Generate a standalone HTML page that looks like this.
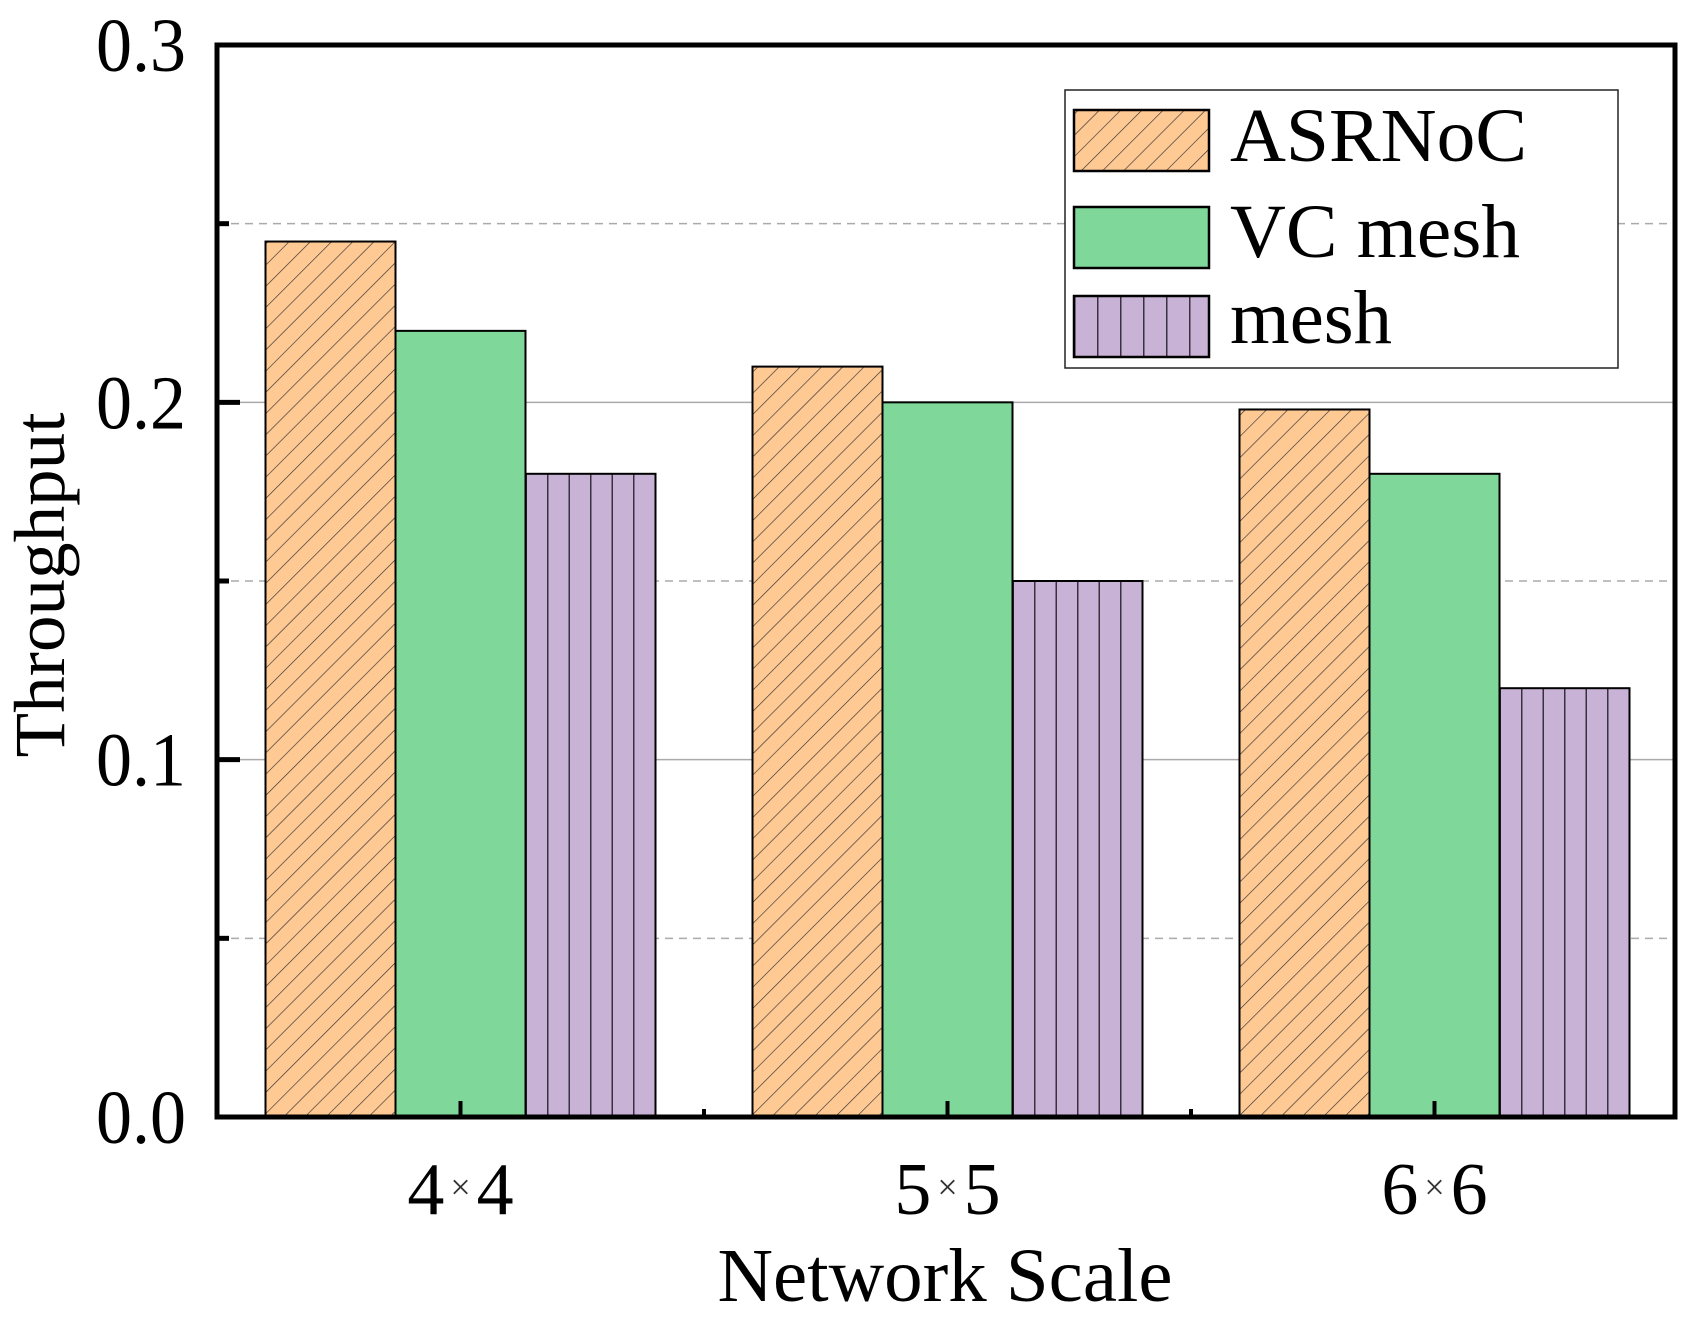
<!DOCTYPE html>
<html><head><meta charset="utf-8"><style>
html,body{margin:0;padding:0;background:#fff;}
svg{display:block;font-family:"Liberation Serif",serif;}
</style></head><body>
<svg id="chart" width="1694" height="1320" viewBox="0 0 1694 1320">
<defs>
<pattern id="diag" patternUnits="userSpaceOnUse" width="15" height="15" patternTransform="rotate(45)">
<rect width="15" height="15" fill="#FFC994"/>
<line x1="0" y1="0" x2="0" y2="15" stroke="#333" stroke-width="1.3"/>
</pattern>
<pattern id="vert" patternUnits="userSpaceOnUse" width="21.5" height="20" x="0">
<rect width="21.5" height="20" fill="#C8B2D6"/>
<line x1="0.75" y1="0" x2="0.75" y2="20" stroke="#3a3040" stroke-width="1.5"/>
</pattern>
</defs>
<g id="grid"></g>
<g id="bars"></g>
<g id="axes"></g>
<g id="legend"></g>
</svg>
<script>
const categories = ["4", "5", "6"];
const seriesNames = ["ASRNoC", "VC mesh", "mesh"];
const asrnocValues = [0.245, 0.21, 0.198];
const vcMeshValues = [0.22, 0.20, 0.18];
const meshValues = [0.18, 0.15, 0.12];
const yTickLabels = ["0.0", "0.1", "0.2", "0.3"];
const yTickValues = [0, 0.1, 0.2, 0.3];
const yMinorValues = [0.05, 0.15, 0.25];

const NS = "http://www.w3.org/2000/svg";
const L = 217, R = 1675, T = 45, B = 1117;
const yMax = 0.3;
function y(v){ return B - v / yMax * (B - T); }
const groupStart = 460.5, groupStep = 487, barW = 130;
function xc(i){ return groupStart + i * groupStep; }
function mk(tag, attrs, parent){
  const e = document.createElementNS(NS, tag);
  for (const k in attrs) e.setAttribute(k, attrs[k]);
  parent.appendChild(e); return e;
}
const grid = document.getElementById('grid');
const bars = document.getElementById('bars');
const axes = document.getElementById('axes');
const legend = document.getElementById('legend');

yTickValues.forEach(v => {
  if (v === 0 || v === yMax) return;
  const g = mk('line', {x1:L, x2:R, y1:y(v), y2:y(v), stroke:'#aaa', 'stroke-width':1.5}, grid);
  
  
});
yMinorValues.forEach(v => {
  const g = mk('line', {x1:L, x2:R, y1:y(v), y2:y(v), stroke:'#aaa', 'stroke-width':1.5, 'stroke-dasharray':'8 6'}, grid);
  
  
});

const series = [asrnocValues, vcMeshValues, meshValues];
const fills = ['url(#diag)', '#7FD89A', 'url(#vert)'];
const slugs = ['asrnoc', 'vc-mesh', 'mesh'];
categories.forEach((c, i) => {
  series.forEach((vals, s) => {
    const x0 = xc(i) - 1.5 * barW + s * barW;
    const r = mk('rect', {x:x0, y:y(vals[i]), width:barW, height:B - y(vals[i]), fill:fills[s], stroke:'#000', 'stroke-width':2}, bars);
    
    
  });
});
document.querySelectorAll('#bars rect').forEach((r, k) => {
  if (k % 3 !== 2) return;
  const x0 = parseFloat(r.getAttribute('x'));
  const p = document.getElementById('vert').cloneNode(true);
  p.id = 'vert' + k; p.setAttribute('x', x0);
  document.querySelector('defs').appendChild(p);
  r.setAttribute('style', 'fill:url(#vert' + k + ')');
});

const fr = mk('rect', {x:L, y:T, width:R - L, height:B - T, fill:'none', stroke:'#000', 'stroke-width':5}, axes);



yTickValues.forEach((v, k) => {
  const t = mk('line', {x1:L, x2:L + 23, y1:y(v), y2:y(v), stroke:'#000', 'stroke-width':5}, axes);
  
  
  const lb = mk('text', {x:186, y:y(v) + 26, 'text-anchor':'end', 'font-size':76, textLength:90, lengthAdjust:'spacingAndGlyphs'}, axes);
  lb.textContent = yTickLabels[k];
  
  
});
yMinorValues.forEach(v => {
  const t = mk('line', {x1:L, x2:L + 12, y1:y(v), y2:y(v), stroke:'#000', 'stroke-width':5}, axes);
  
  
});
categories.forEach((c, i) => {
  const t = mk('line', {x1:xc(i), x2:xc(i), y1:B, y2:B - 16, stroke:'#000', 'stroke-width':4}, axes);
  
  
  if (i < categories.length - 1) {
    const m = mk('line', {x1:xc(i) + groupStep / 2, x2:xc(i) + groupStep / 2, y1:B, y2:B - 8, stroke:'#000', 'stroke-width':4}, axes);
    
    
  }
  const lb = mk('text', {x:xc(i), y:1214, 'text-anchor':'middle', 'font-size':74}, axes);
  
  
  const a = mk('tspan', {}, lb); a.textContent = c;
  const b = mk('tspan', {'font-size':36, fill:'#333', dy:-15, dx:6}, lb); b.textContent = '×';
  const d = mk('tspan', {dy:15, dx:6}, lb); d.textContent = c;
});
const xt = mk('text', {x:945, y:1301, 'text-anchor':'middle', 'font-size':76, textLength:455, lengthAdjust:'spacingAndGlyphs'}, axes);
xt.textContent = 'Network Scale';


const yt = mk('text', {x:0, y:0, 'text-anchor':'middle', 'font-size':72, transform:'translate(64,585) rotate(-90)', textLength:345, lengthAdjust:'spacingAndGlyphs'}, axes);
yt.textContent = 'Throughput';



const lbx = mk('rect', {x:1065, y:90, width:553, height:278, fill:'#fff', stroke:'#222', 'stroke-width':1.5}, legend);


const rowsY = [110, 207, 296];
const baseY = [161, 257, 343];
const lfills = ['url(#diag)', '#7FD89A', 'url(#vert)'];
const lwidths = [297, 290, 162];
seriesNames.forEach((n, s) => {
  const sw = mk('rect', {x:1074, y:rowsY[s], width:135, height:61, fill:lfills[s], stroke:'#000', 'stroke-width':2.5}, legend);
  
  
  if (s === 2) {
    const p = document.getElementById('vert').cloneNode(true);
    p.id = 'vertleg'; p.setAttribute('x', 1074); p.setAttribute('width', 23);
    p.querySelector('rect').setAttribute('width', 23);
    document.querySelector('defs').appendChild(p);
    sw.setAttribute('style', 'fill:url(#vertleg)');
  }
  const t = mk('text', {x:1230, y:baseY[s], 'font-size':76, textLength:lwidths[s], lengthAdjust:'spacingAndGlyphs'}, legend);
  t.textContent = n;
  
  
});
</script>
</body></html>
